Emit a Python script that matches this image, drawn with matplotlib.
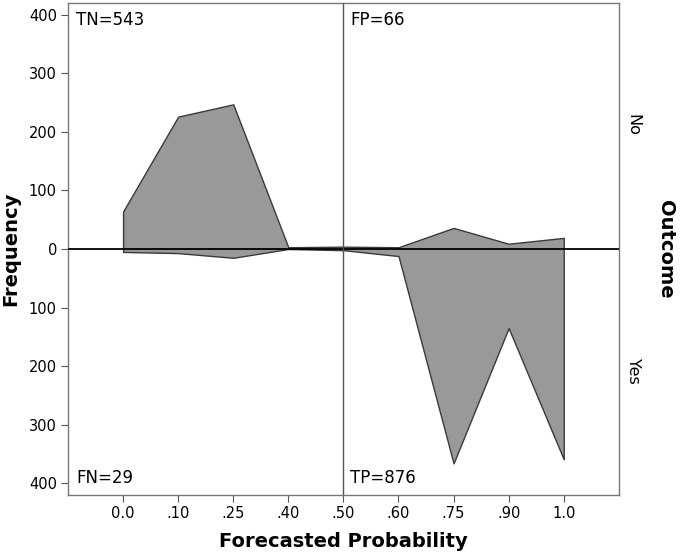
import matplotlib.pyplot as plt
import numpy as np

# forecast bins and counts per outcome
categories = ["0.0", ".10", ".25", ".40", ".50", ".60", ".75", ".90", "1.0"]
count_no = [64, 226, 247, 3, 4, 3, 36, 9, 19]
count_yes = [5, 7, 15, 0, 2, 12, 366, 135, 359]
y_ticks = [-400, -300, -200, -100, 0, 100, 200, 300, 400]
corner_labels = {"TN": 543, "FP": 66, "FN": 29, "TP": 876}


def main():
    fig = plt.figure(figsize=(6.8, 5.57), dpi=100)
    ax = fig.add_axes([0.1, 0.1113, 0.81, 0.8833])

    x = np.arange(len(categories))
    top = np.array(count_no)
    bottom = -np.array(count_yes)

    ax.fill_between(x, bottom, top, facecolor="#999999", edgecolor="#3a3a3a", linewidth=1.0, zorder=2)
    ax.axhline(0, color="black", linewidth=1.3, zorder=3)
    ax.axvline(4, color="#555555", linewidth=1.0, zorder=3)

    ax.set_xlim(-1, len(categories))
    ax.set_ylim(-420, 420)
    ax.set_xticks(x)
    ax.set_xticklabels(categories, fontsize=10.5)
    ax.set_yticks(y_ticks)
    ax.set_yticklabels([str(abs(v)) for v in y_ticks], fontsize=10.5)
    ax.tick_params(direction="out", length=5, color="#555555", pad=3)

    for s in ax.spines.values():
        s.set_color("#777777")
        s.set_linewidth(1.0)

    txt = dict(fontsize=12, zorder=4)
    ax.text(-0.85, 406, "TN=%d" % corner_labels["TN"], va="top", ha="left", **txt)
    ax.text(4.12, 406, "FP=%d" % corner_labels["FP"], va="top", ha="left", **txt)
    ax.text(-0.85, -406, "FN=%d" % corner_labels["FN"], va="bottom", ha="left", **txt)
    ax.text(4.12, -406, "TP=%d" % corner_labels["TP"], va="bottom", ha="left", **txt)

    ax.set_xlabel("Forecasted Probability", fontsize=14, fontweight="bold", labelpad=8)
    ax.set_ylabel("Frequency", fontsize=14, fontweight="bold", labelpad=6)

    fig.text(0.931, 0.775, "No", rotation=-90, ha="center", va="center", fontsize=11.5)
    fig.text(0.931, 0.335, "Yes", rotation=-90, ha="center", va="center", fontsize=11.5)
    fig.text(0.978, 0.553, "Outcome", rotation=-90, ha="center", va="center", fontsize=14, fontweight="bold")

    plt.savefig("out.png", dpi=100)
    plt.close()


main()
